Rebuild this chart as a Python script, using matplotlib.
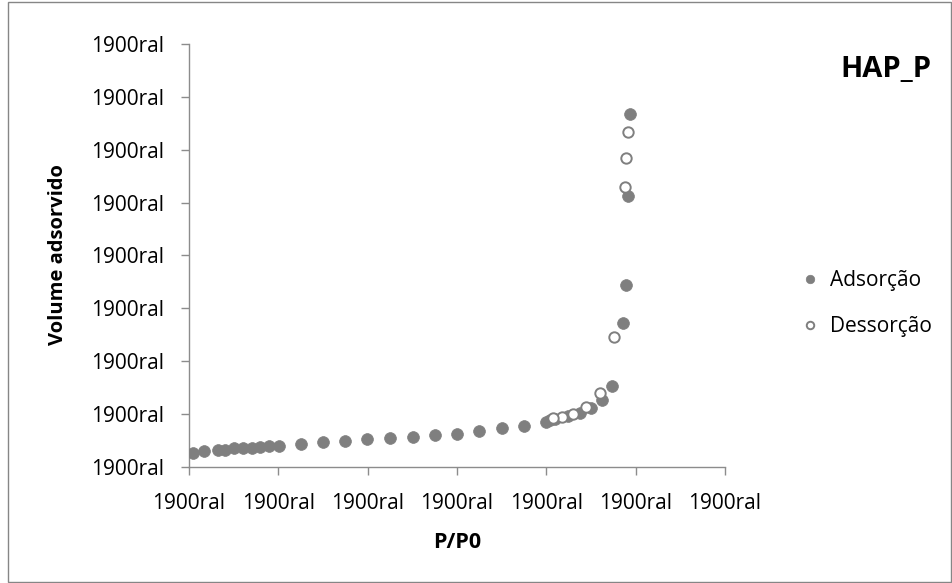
import matplotlib
matplotlib.use("Agg")
import matplotlib.pyplot as plt
from matplotlib.ticker import FixedLocator, FuncFormatter

plt.rcParams["font.family"] = ["Open Sans", "DejaVu Sans"]

# adsorption branch (P/P0, volume)
ads_x = [0.010, 0.034, 0.066, 0.081, 0.101, 0.120, 0.140, 0.160, 0.180, 0.201,
         0.251, 0.300, 0.350, 0.399, 0.450, 0.501, 0.551, 0.601, 0.650, 0.700,
         0.750, 0.799, 0.808, 0.819, 0.849, 0.875, 0.899, 0.924, 0.947, 0.971,
         0.978, 0.983, 0.987]
ads_y = [27, 30, 33, 33, 35, 36, 35, 38, 40, 40,
         43, 47, 50, 52, 55, 57, 60, 63, 68, 73,
         78, 85, 88, 90, 96, 103, 112, 126, 153, 272,
         345, 513, 667]

# desorption branch
des_x = [0.976, 0.978, 0.983, 0.951, 0.920, 0.889, 0.860, 0.834, 0.815]
des_y = [530, 584, 634, 245, 140, 114, 101, 94, 92]

yticks = [0, 100, 200, 300, 400, 500, 600, 700, 800]
xticks = [0, 0.2, 0.4, 0.6, 0.8, 1.0, 1.2]
tick_text = "1900ral"  # broken number format in the original

grey = "#7f7f7f"
axis_grey = "#8c8c8c"

fig = plt.figure(figsize=(9.53, 5.83), dpi=100)
ax = fig.add_axes([0.1983, 0.199, 0.5625, 0.7256])

ax.scatter(ads_x, ads_y, s=72, color=grey, edgecolors=grey, linewidths=0.5,
           zorder=3, label="Adsorção")
ax.scatter(des_x, des_y, s=56, facecolors="white", edgecolors=grey,
           linewidths=1.4, zorder=4, label="Dessorção")

ax.set_xlim(0, 1.2)
ax.set_ylim(0, 800)
ax.xaxis.set_major_locator(FixedLocator(xticks))
ax.yaxis.set_major_locator(FixedLocator(yticks))
ax.xaxis.set_major_formatter(FuncFormatter(lambda v, p: tick_text))
ax.yaxis.set_major_formatter(FuncFormatter(lambda v, p: tick_text))
ax.tick_params(axis="both", direction="out", length=5.8, width=1.0,
               color=axis_grey, labelsize=15, labelcolor="black")
ax.tick_params(axis="y", pad=12.5)
ax.tick_params(axis="x", pad=13)
for side in ("top", "right"):
    ax.spines[side].set_visible(False)
for side in ("left", "bottom"):
    ax.spines[side].set_color(axis_grey)
    ax.spines[side].set_linewidth(1.0)

fig.text(457 / 953, 1 - 543 / 583, "P/P0", fontsize=15.5, fontweight="bold",
         ha="center", va="center")
fig.text(58 / 953, 1 - 255 / 583, "Volume adsorvido", fontsize=14.5,
         fontweight="bold", rotation=90, ha="center", va="center")
fig.text(886 / 953, 1 - 77 / 583, "HAP_P", fontsize=21, fontweight="bold",
         ha="center", va="baseline")

ax.legend(loc="center left", bbox_to_anchor=(0.8325, 1 - 303.5 / 583),
          bbox_transform=fig.transFigure, frameon=False, fontsize=15,
          handlelength=0.8, handletextpad=0.56, borderpad=0.4,
          borderaxespad=0, labelspacing=1.2, markerscale=0.72,
          scatterpoints=1, scatteryoffsets=[0.5])

fig.patches.append(plt.Rectangle((8 / 953, 1 / 583), 943 / 953, 580 / 583,
                                 transform=fig.transFigure, fill=False,
                                 edgecolor="#868686", linewidth=1))

fig.savefig("out.png", dpi=100)
